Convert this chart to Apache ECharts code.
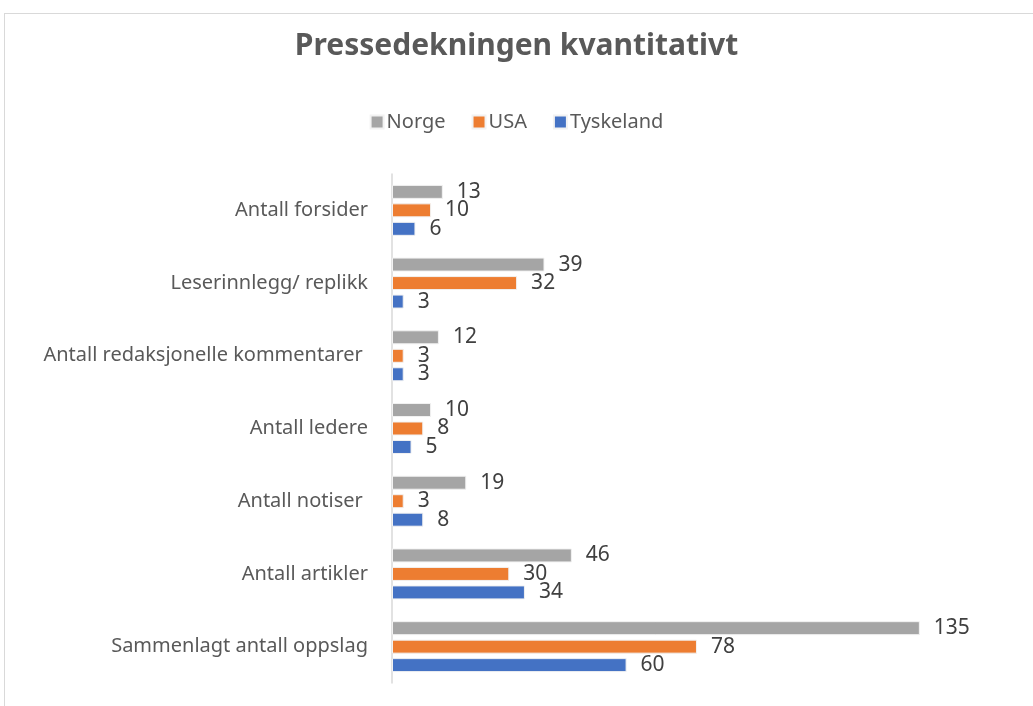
<!DOCTYPE html>
<html>
<head>
<meta charset="utf-8">
<script src="https://cdn.jsdelivr.net/npm/echarts@6/dist/echarts.min.js"></script>
<style>
  html, body { margin: 0; padding: 0; background: #fff; }
  #frame { position: absolute; left: 4px; top: 13px; width: 1040px; height: 710px; border: 1px solid #d9d9d9; box-sizing: border-box; }
  #chart { position: absolute; left: 0; top: 0; width: 1033px; height: 706px; }
</style>
</head>
<body>
<div id="frame"></div>
<div id="chart"></div>
<script>
// data
const categories = [
  'Antall forsider',
  'Leserinnlegg/ replikk',
  'Antall redaksjonelle kommentarer ',
  'Antall ledere',
  'Antall notiser ',
  'Antall artikler',
  'Sammenlagt antall oppslag'
];
const norge = [13, 39, 12, 10, 19, 46, 135];
const usa = [10, 32, 3, 8, 3, 30, 78];
const tyskeland = [6, 3, 3, 5, 8, 34, 60];

const colors = ['#A5A5A5', '#ED7D31', '#4472C4'];
const font = 'Noto Sans';

function barSeries(name, values) {
  return {
    name: name,
    type: 'bar',
    data: values,
    barWidth: 14,
    barGap: '32%',
    itemStyle: { borderColor: '#f2f2f2', borderWidth: 1 },
    label: {
      show: true,
      position: 'right',
      distance: 14,
      color: '#404040',
      fontFamily: font,
      fontSize: 21
    }
  };
}

const myChart = echarts.init(document.getElementById('chart'));
myChart.setOption({
  animation: false,
  color: colors,
  title: {
    text: 'Pressedekningen kvantitativt',
    left: 'center',
    top: 26,
    textStyle: { fontFamily: font, fontSize: 30, fontWeight: 'bold', color: '#595959' }
  },
  legend: {
    top: 107,
    left: 'center',
    itemWidth: 13,
    itemHeight: 13,
    itemGap: 26,
    icon: 'rect',
    textStyle: { fontFamily: font, fontSize: 20, color: '#595959', padding: [0, 0, 0, -2] },
    data: ['Norge', 'USA', 'Tyskeland']
  },
  grid: { left: 392, right: 54.5, top: 174, bottom: 23 },
  xAxis: {
    type: 'value',
    min: 0,
    max: 150,
    show: false
  },
  yAxis: {
    type: 'category',
    inverse: true,
    data: categories,
    axisLine: { lineStyle: { color: '#d9d9d9', width: 1.5 } },
    axisTick: { show: false },
    axisLabel: { fontFamily: font, fontSize: 20, color: '#595959', margin: 24 }
  },
  series: [
    barSeries('Norge', norge),
    barSeries('USA', usa),
    barSeries('Tyskeland', tyskeland)
  ]
});
</script>
</body>
</html>
